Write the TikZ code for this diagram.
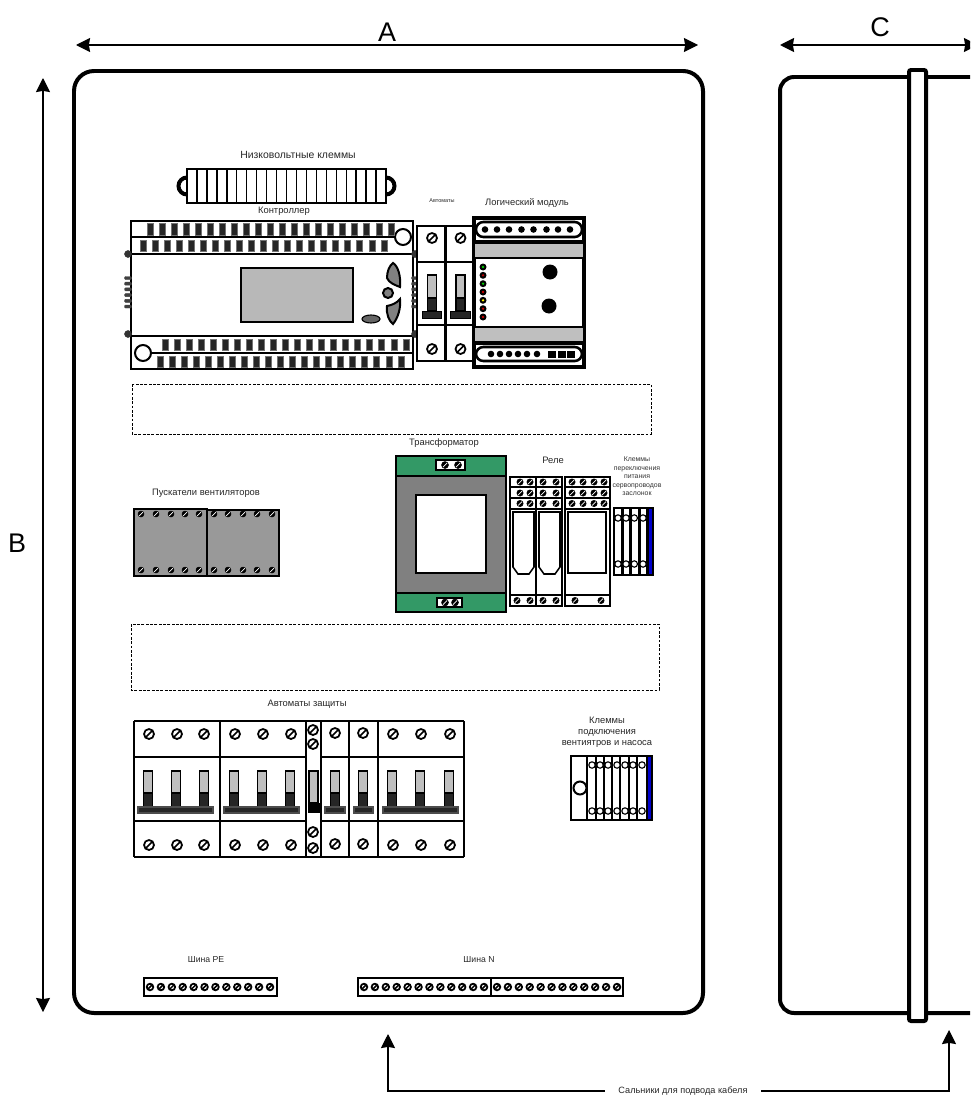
\documentclass[tikz,border=0pt]{standalone}
\usepackage{fontspec}
\setmainfont{Liberation Sans}
\usetikzlibrary{arrows.meta}
\tikzset{
	hairline/.style={line width=0.95pt},
	midline/.style={line width=1.7pt},
	postline/.style={line width=2.5pt},
	heavyline/.style={line width=3.4pt},
	zoneline/.style={line width=0.75pt, dash pattern=on 2.4pt off 1.3pt},
	dimline/.style={line width=1.1pt, {Stealth[length=12pt,width=12pt,inset=1pt]}-{Stealth[length=12pt,width=12pt,inset=1pt]}},
	feedline/.style={line width=0.95pt, -{Stealth[length=12pt,width=12pt,inset=1pt]}},
	pin/.style={line width=0.7pt, draw=black!55, fill=black!85},
	bigsign/.style={font=\fontsize{23}{26}\selectfont, inner sep=0pt},
	caption/.style={font=\fontsize{8}{9.4}\selectfont, inner sep=0pt, text=black!85, align=center},
	tinycaption/.style={font=\fontsize{5.9}{7.2}\selectfont, inner sep=0pt, text=black!80, align=center},
	buscaption/.style={font=\fontsize{7.4}{9}\selectfont, inner sep=0pt, text=black!85, align=center},
}
\definecolor{trafogreen}{HTML}{339966}
\definecolor{clampblue}{HTML}{0000CC}
\def\screw(#1,#2)(#3){\draw[line width=1.5pt, fill=white] (#1,#2) circle (#3); \draw[line width=1.3pt] ({#1-0.75*#3},{#2+0.75*#3}) -- ({#1+0.75*#3},{#2-0.75*#3});}
\def\darkscrew(#1,#2)(#3){\draw[fill=black] (#1,#2) circle (#3); \draw[white, line width=0.6pt] ({#1-0.6*#3},{#2+0.6*#3}) -- ({#1+0.6*#3},{#2-0.6*#3});}
\def\pinrow(#1,#2,#3){\foreach \n in {0,...,20} {\draw[pin] ({#1+12.05*\n-3},#2) rectangle ({#1+12.05*\n+3},#3);}}
\def\handle(#1){\draw[line width=1.1pt, fill=black!25] ({#1-4.5},771) rectangle ({#1+4.5},793); \draw[line width=1.1pt, fill=black!85] ({#1-4.5},793) rectangle ({#1+4.5},807);}

\begin{document}
\begin{tikzpicture}[x=0.03cm, y=-0.03cm]
	\useasboundingbox (0,0) rectangle (970,1095);
	\clip (0,0) rectangle (970,1095);
	%%%%% HOUSINGS %%%%%
	\draw[heavyline, rounded corners=0.6cm] (74,71) rectangle (703,1013);
	\draw[heavyline, rounded corners=0.42cm] (780,77) rectangle (1000,1013);
	\draw[heavyline, fill=white, rounded corners=0.06cm] (909,70) rectangle (926,1021);

	%%%%% DIMENSIONS %%%%%
	\coordinate (aleft) at (76,45);
	\coordinate (aright) at (698,45);
	\coordinate (btop) at (43,78);
	\coordinate (bbottom) at (43,1012);
	\coordinate (cleft) at (780,45);
	\coordinate (cright) at (978,45);
	\draw[dimline] (aleft) -- (aright);
	\draw[dimline] (btop) -- (bbottom);
	\draw[dimline] (cleft) -- (cright);
	\node[bigsign] (signa) at (387,32) {A};
	\node[bigsign] (signb) at (17,543) {B};
	\node[bigsign] (signc) at (880,27) {C};

	%%%%% LOW VOLTAGE CLAMPS %%%%%
	\node[caption, font=\fontsize{8.9}{10}\selectfont] (lvlabel) at (298,155) {Низковольтные клеммы};
	\draw[heavyline] (187,186) circle (8.5);
	\draw[heavyline] (386,186) circle (8.5);
	\draw[midline, fill=white] (187,169) rectangle (386,203);
	\foreach \n in {1,...,19} {\draw[line width=1.2pt] ({187+9.95*\n},169) -- ({187+9.95*\n},203);}

	%%%%% CONTROLLER %%%%%
	\node[caption] (ctrllabel) at (284,211) {Контроллер};
	\draw[midline] (131,221) rectangle (413,369);
	\draw[midline] (131,237) -- (396,237);
	\draw[midline] (131,254) -- (413,254);
	\draw[midline] (131,336) -- (413,336);
	\draw[midline] (152,353) -- (413,353);
	\draw[midline, fill=white] (403,237) circle (8);
	\draw[midline, fill=white] (143,353) circle (8);
	\pinrow(150,223,235)
	\pinrow(143,240,251)
	\pinrow(165,339,350)
	\pinrow(160,356,367)
	\foreach \sx in {128,415} {
		\foreach \sy in {254,334} {\draw[fill=black!80, draw=black!80] (\sx,\sy) circle (3.5);}
		\foreach \n in {0,...,5} {\draw[fill=black!75, draw=black!75, rounded corners=0.03cm] ({\sx-3.5},{276.5+5.7*\n}) rectangle ({\sx+3.5},{279.5+5.7*\n});}
	}
	\draw[midline, fill=black!28] (241,268) rectangle (353,322);
	\draw[midline, fill=black!50] (393,263) .. controls (398,266) and (401,276) .. (400,287) .. controls (395,285) and (389,283) .. (387,278) .. controls (387,272) and (389,266) .. (393,263) -- cycle;
	\draw[midline, fill=black!50] (400,299) .. controls (401,308) and (398,318) .. (393,324) .. controls (389,321) and (386,314) .. (387,306) .. controls (392,305) and (397,303) .. (400,299) -- cycle;
	\draw[midline, fill=black!50] (388,293) circle (5);
	\draw[hairline, fill=black!60] (371,319) ellipse (9 and 4);

	%%%%% SMALL BREAKERS %%%%%
	\node[caption, font=\fontsize{4.7}{6}\selectfont] (smalllabel) at (442,201) {Автоматы};
	\node[caption] (logiclabel) at (527,203) {Логический модуль};
	\foreach \bx in {417,446} {\draw[midline, fill=white] (\bx,226) rectangle ({\bx+28},361);}
	\draw[midline] (417,262) -- (474,262);
	\draw[midline] (417,325) -- (474,325);
	\foreach \bx in {432,460.5} {
		\screw(\bx,238)(5)
		\screw(\bx,349)(5)
		\draw[line width=1.1pt, fill=black!25] ({\bx-4.5},275) rectangle ({\bx+4.5},298);
		\draw[line width=1.1pt, fill=black!85] ({\bx-4.5},298) rectangle ({\bx+4.5},311);
		\draw[fill=black!85] ({\bx-10},311) rectangle ({\bx+9.5},318);
	}

	%%%%% LOGIC MODULE %%%%%
	\draw[line width=2.8pt, fill=white] (474,218) rectangle (584,367);
	\draw[midline, fill=black!25] (474,243) rectangle (584,258);
	\draw[midline, fill=black!25] (474,327) rectangle (584,342);
	\draw[midline] (474,241) -- (584,241);
	\draw[midline] (474,344) -- (584,344);
	\draw[line width=2.2pt, rounded corners=0.22cm] (476,222) rectangle (582,237);
	\draw[line width=2.2pt, rounded corners=0.22cm] (476,347) rectangle (582,361);
	\foreach \dx in {485,497,509,521.5,533.5,546.5,558,570} {\fill (\dx,229.5) circle (3.3);}
	\foreach \dx in {491,500,509,518,527,537} {\fill (\dx,354) circle (3.3);}
	\foreach \dx in {552,562,571} {\fill ({\dx-4},350.5) rectangle ({\dx+4},357.5);}
	\foreach \ly/\lc in {267/green!80!black,275.3/red!70!black,283.7/green!80!black,292/red!80!black,300.3/yellow,308.7/red!80!black,317/red!80!black} {
		\fill (483,\ly) circle (3.5);
		\fill[\lc] (483,\ly) circle (1.3);
	}
	\fill (550,272) circle (7.5);
	\fill (549,306) circle (7.5);

	%%%%% RESERVED ZONES %%%%%
	\draw[zoneline] (132,384) rectangle (651,434);
	\draw[zoneline] (131,624) rectangle (659,690);

	%%%%% STARTERS %%%%%
	\node[caption] (starterlabel) at (206,493) {Пускатели вентиляторов};
	\draw[midline, fill=black!40] (134,509) rectangle (207,576);
	\draw[midline, fill=black!40] (207,510) rectangle (279,576);
	\foreach \sx in {141,156,171,185,199,214,228,243,257,272} {
		\darkscrew(\sx,514)(3)
		\darkscrew(\sx,570)(3)
	}

	%%%%% TRANSFORMER %%%%%
	\node[caption] (trafolabel) at (444,443) {Трансформатор};
	\draw[midline, fill=black!50] (396,476) rectangle (506,593);
	\draw[midline, fill=trafogreen] (396,456) rectangle (506,476);
	\draw[midline, fill=trafogreen] (396,593) rectangle (506,612);
	\draw[midline, fill=white] (416,495) rectangle (486,573);
	\draw[midline, fill=white] (436,460) rectangle (465,470);
	\draw[midline, fill=white] (437,598) rectangle (462,607);
	\foreach \sx in {445,458} {\darkscrew(\sx,465)(3.5)}
	\foreach \sx in {445,455} {\darkscrew(\sx,602.5)(3.5)}

	%%%%% RELAYS %%%%%
	\node[caption] (relaylabel) at (553,460) {Реле};
	\draw[midline, fill=white] (510,477) rectangle (536,606);
	\draw[midline, fill=white] (536,477) rectangle (562,606);
	\draw[midline, fill=white] (565,477) rectangle (610,606);
	\foreach \ry in {487,498,509,595} {
		\draw[midline] (510,\ry) -- (562,\ry);
		\draw[midline] (565,\ry) -- (610,\ry);
	}
	\foreach \ry in {482,493,503.5} {
		\foreach \sx in {520,530,543,556,572,583,594,604} {\darkscrew(\sx,\ry)(3.2)}
	}
	\foreach \sx in {517,530,543,556,575,601} {\darkscrew(\sx,600.5)(3.2)}
	\draw[line width=1.3pt] (513,512) -- (534,512) -- (534,567) -- (529,574) -- (518,574) -- (513,567) -- cycle;
	\draw[line width=1.3pt] (539,512) -- (560,512) -- (560,567) -- (555,574) -- (544,574) -- (539,567) -- cycle;
	\draw[line width=1.3pt] (568,512) rectangle (606,573);

	%%%%% SERVO CLAMPS %%%%%
	\node[tinycaption] (servolabel) at (637,476.5) {Клеммы\\переключения\\питания\\сервопроводов\\заслонок};
	\fill[clampblue] (648,508) rectangle (653,575);
	\draw[midline] (614,508) rectangle (653,575);
	\foreach \sx in {614,622.3,630.7,639.3,647.7} {\draw[postline] (\sx,508) -- (\sx,575);}
	\foreach \sx in {618,626,634.3,643} {
		\draw[hairline, fill=white] (\sx,518) circle (3.2);
		\draw[hairline, fill=white] (\sx,564) circle (3.2);
	}

	%%%%% PROTECTION BREAKERS %%%%%
	\node[caption] (protlabel) at (307,704) {Автоматы защиты};
	\draw[midline] (134,721) -- (464,721);
	\draw[midline] (134,857) -- (464,857);
	\draw[midline] (134,757) -- (306,757);
	\draw[midline] (134,821) -- (306,821);
	\draw[midline] (321,757) -- (464,757);
	\draw[midline] (321,821) -- (464,821);
	\foreach \bx in {134,220,306,321,349,378,464} {\draw[postline] (\bx,721) -- (\bx,857);}
	\foreach \sx in {149,177,204,235,263,291,393,421,450} {
		\screw(\sx,734)(5)
		\screw(\sx,845)(5)
	}
	\screw(335,733)(5)
	\screw(363,733)(5)
	\screw(335,844)(5)
	\screw(363,844)(5)
	\screw(313,730)(5)
	\screw(313,744)(5)
	\screw(313,832)(5)
	\screw(313,848)(5)
	\foreach \sx in {148,176,204,234,262,290,335,363,392,420,449} {\handle(\sx)}
	\foreach \ba/\bb in {138/213,224/299,325/345,354/373,383/458} {\draw[line width=0.9pt, draw=black!70, fill=black!85] (\ba,807) rectangle (\bb,813);}
	\draw[line width=1.1pt, fill=black!25] (309,771) rectangle (318,803);
	\fill (308,803) rectangle (320,813);

	%%%%% PUMP CLAMPS %%%%%
	\node[caption] (pumplabel) at (607,732) {Клеммы\\подключения\\вентиятров и насоса};
	\fill[clampblue] (647,756) rectangle (652,820);
	\draw[midline] (571,756) rectangle (652,820);
	\draw[postline] (587,756) -- (587,820);
	\draw[midline] (580,788) circle (6.5);
	\foreach \sx in {596,604,612,620,629,637,647} {\draw[postline] (\sx,756) -- (\sx,820);}
	\foreach \sx in {592,600,608,617,625,633,642} {
		\draw[hairline, fill=white] (\sx,765) circle (3.2);
		\draw[hairline, fill=white] (\sx,811) circle (3.2);
	}

	%%%%% BUSBARS %%%%%
	\node[buscaption] (pelabel) at (206,960) {Шина PE};
	\node[buscaption] (nlabel) at (479,960) {Шина N};
	\draw[midline] (144,978) rectangle (277,996);
	\draw[midline] (358,978) rectangle (491,996);
	\draw[midline] (491,978) rectangle (623,996);
	\foreach \n in {0,...,11} {
		\screw({150+10.91*\n},987)(3.3)
		\screw({364+10.91*\n},987)(3.3)
		\screw({497+10.91*\n},987)(3.3)
	}

	%%%%% CABLE GLANDS %%%%%
	\node[buscaption, font=\fontsize{7.8}{9}\selectfont, fill=white, inner xsep=0.4cm] (glandlabel) at (683,1091) {Сальники для подвода кабеля};
	\coordinate (glandleft) at (388,1034);
	\coordinate (glandright) at (949,1030);
	\draw[feedline] (glandlabel.west) -| (glandleft);
	\draw[feedline] (glandlabel.east) -| (glandright);
\end{tikzpicture}
\end{document}
